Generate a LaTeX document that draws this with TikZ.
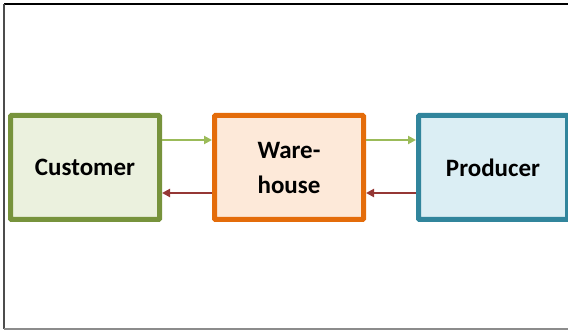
\documentclass[tikz,border=0pt]{standalone}
\usepackage{fontspec}
\setmainfont{Carlito}
\usepackage{xcolor}
\usetikzlibrary{arrows.meta, positioning}

\definecolor{custline}{HTML}{77933C}
\definecolor{custfill}{HTML}{EBF1DE}
\definecolor{wareline}{HTML}{E46C0A}
\definecolor{warefill}{HTML}{FDE9D9}
\definecolor{prodline}{HTML}{31859C}
\definecolor{prodfill}{HTML}{DBEEF4}
\definecolor{goodsflow}{HTML}{9BBB59}
\definecolor{orderflow}{HTML}{953735}

\begin{document}
\begin{tikzpicture}[x=1pt, y=-1pt, node distance=50pt]
    \useasboundingbox (0,0) rectangle (568,331);
    \draw[black, line width=1.2pt] (4,4) -- (568,4);
    \draw[black!70, line width=1.5pt] (4,4) -- (4,329);
    \draw[black!45, line width=1.5pt] (4,329) -- (568,329);

    \node[draw=custline, fill=custfill, line width=5pt, rounded corners=1pt, minimum width=149pt, minimum height=104pt, align=center, font=\fontsize{25}{35}\selectfont\bfseries] (cust) at (85,167.5) {Customer};
    \node[draw=wareline, fill=warefill, line width=5pt, rounded corners=1pt, minimum width=149pt, minimum height=104pt, align=center, font=\fontsize{25}{35}\selectfont\bfseries, right=of cust] (ware) {Ware-\\house};
    \node[draw=prodline, fill=prodfill, line width=5pt, rounded corners=1pt, minimum width=149pt, minimum height=104pt, align=center, font=\fontsize{25}{35}\selectfont\bfseries, right=of ware] (prod) {Producer};

    \draw[-{Triangle[length=8pt, width=8pt]}, goodsflow, line width=2.5pt] ([yshift=27.5pt]cust.east) -- ([yshift=27.5pt]ware.west);
    \draw[-{Triangle[length=8pt, width=8pt]}, goodsflow, line width=2.5pt] ([yshift=27.5pt]ware.east) -- ([yshift=27.5pt]prod.west);
    \draw[-{Triangle[length=8pt, width=8pt]}, orderflow, line width=2.5pt] ([yshift=-25.5pt]ware.west) -- ([yshift=-25.5pt]cust.east);
    \draw[-{Triangle[length=8pt, width=8pt]}, orderflow, line width=2.5pt] ([yshift=-25.5pt]prod.west) -- ([yshift=-25.5pt]ware.east);
\end{tikzpicture}
\end{document}
